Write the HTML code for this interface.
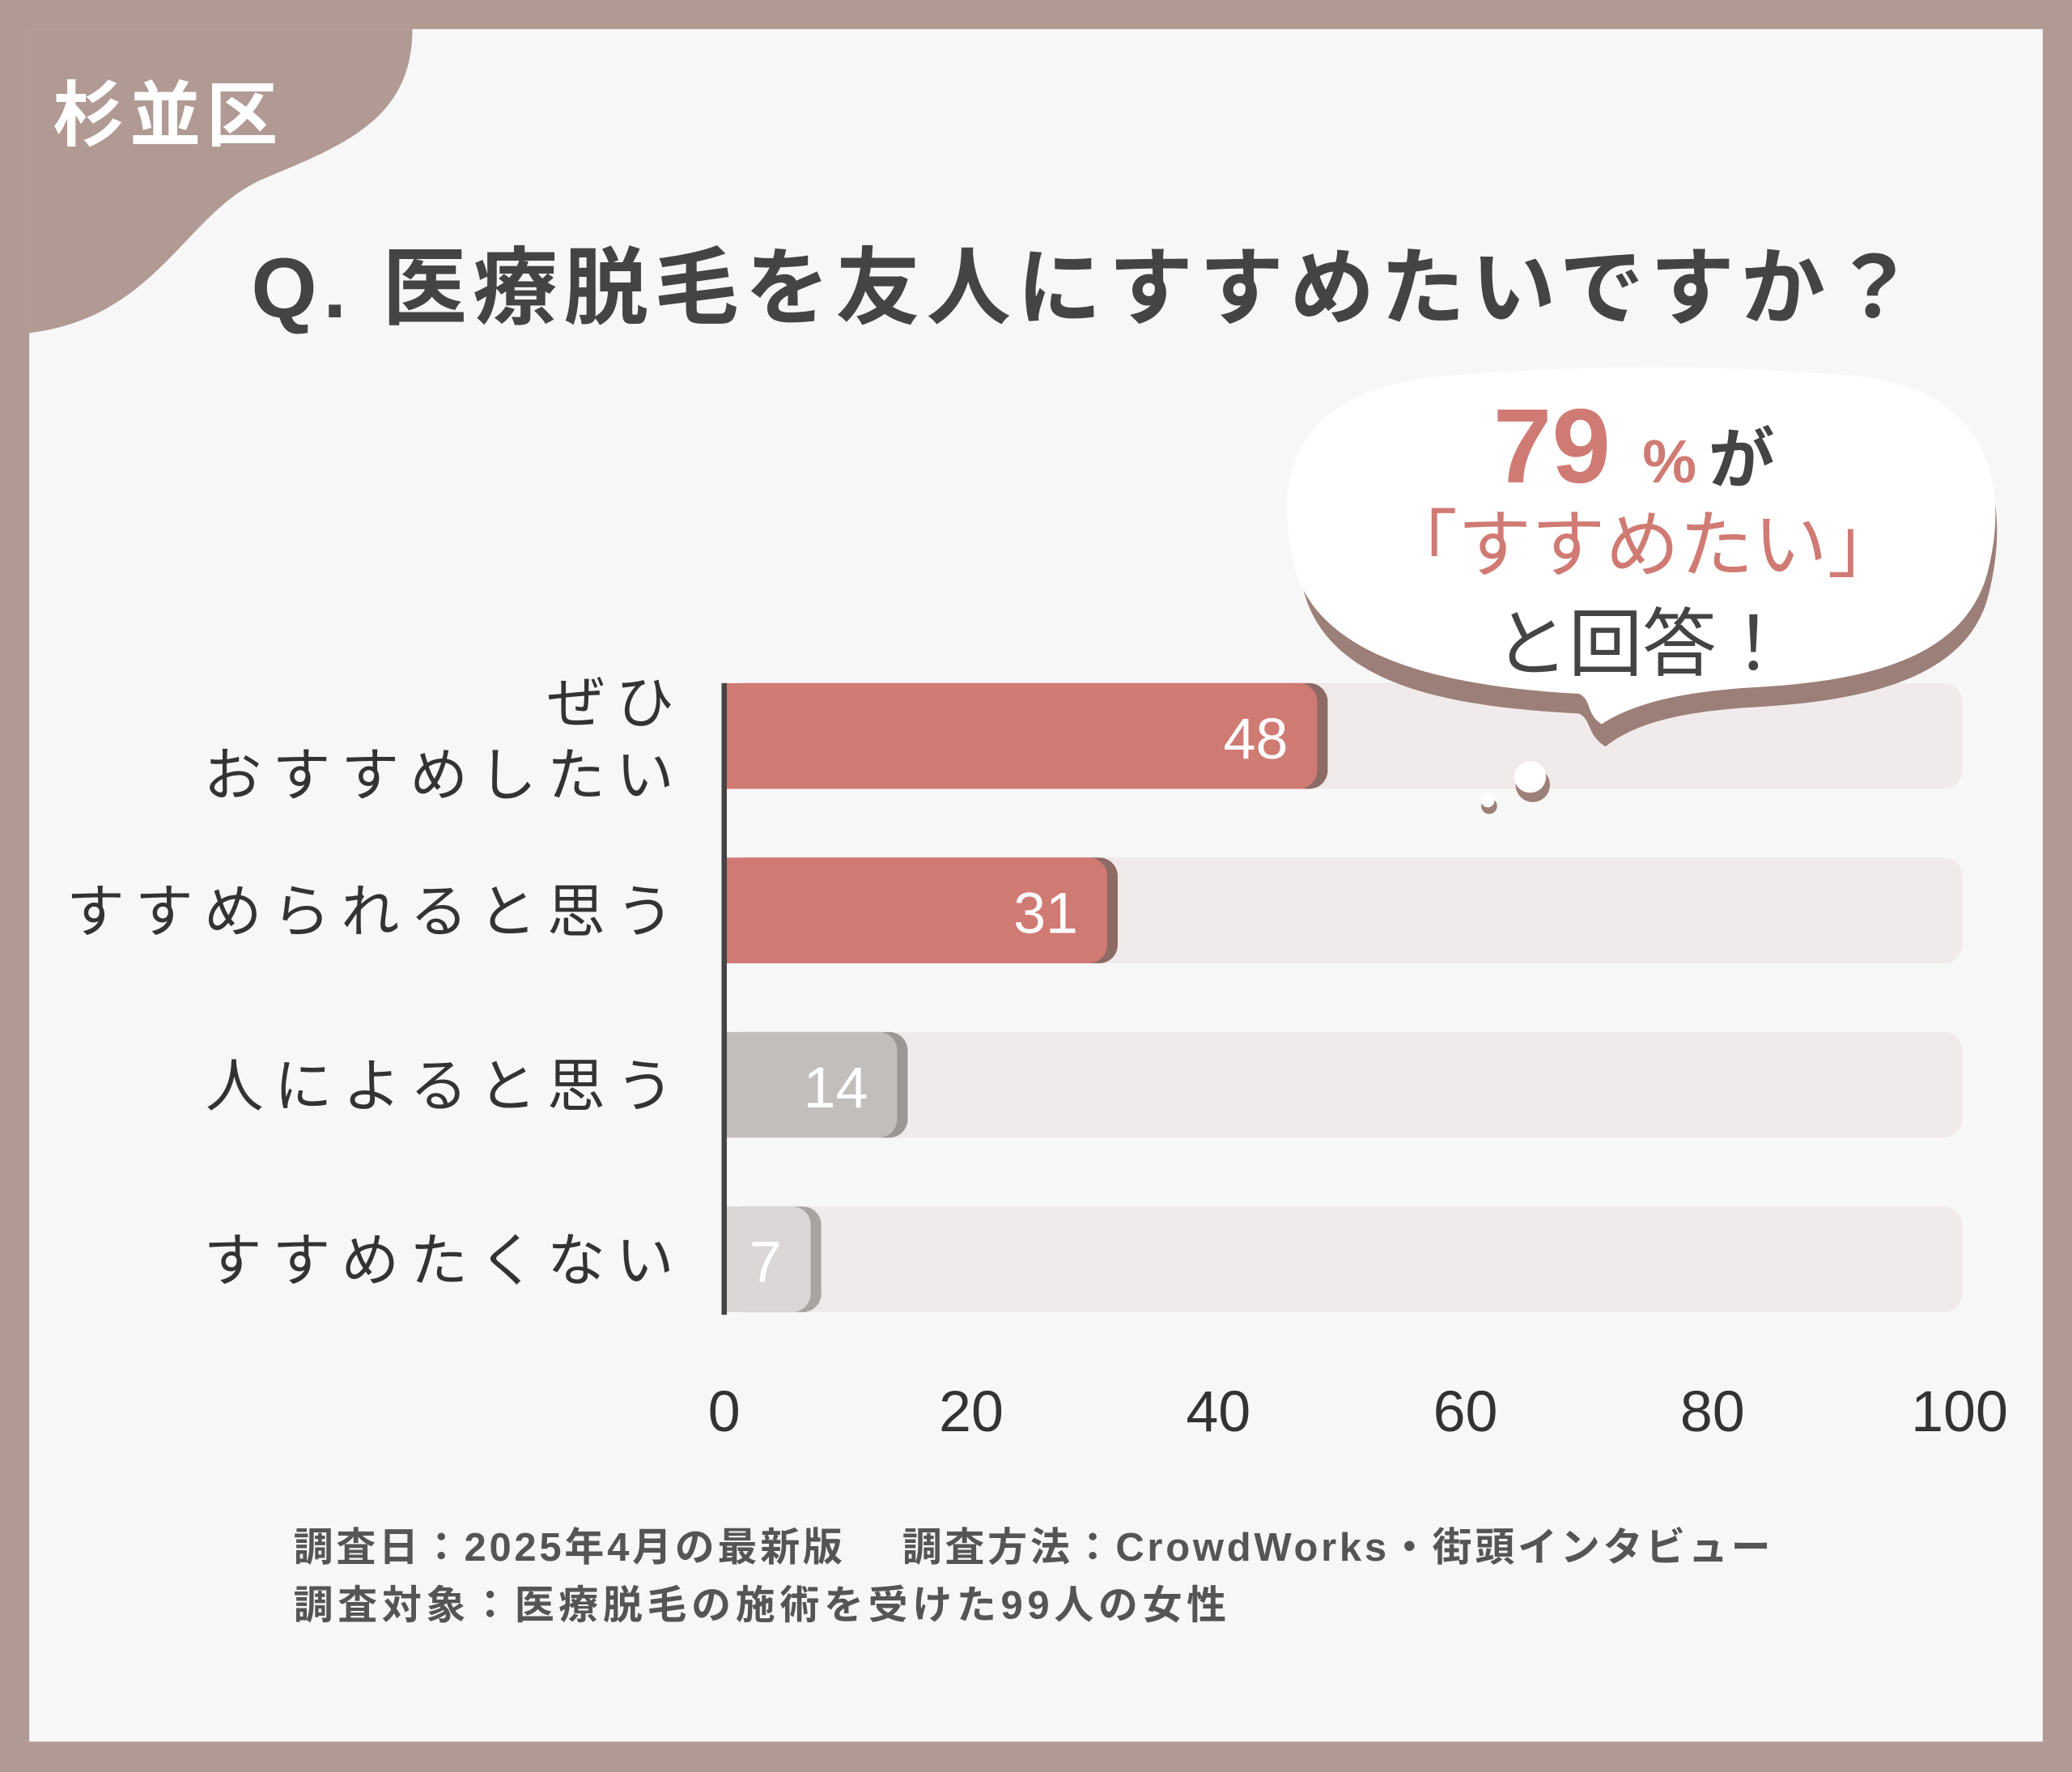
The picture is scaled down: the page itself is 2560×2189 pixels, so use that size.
<!DOCTYPE html>
<html><head><meta charset="utf-8"><style>
html,body{margin:0;padding:0;background:#b09a93;}
svg{display:block}
text{font-family:"Liberation Sans","Noto Sans CJK JP",sans-serif;}
</style></head><body>
<svg width="2560" height="2189" viewBox="0 0 1568 1341" xmlns="http://www.w3.org/2000/svg">
<rect x="0" y="0" width="1568" height="1341" fill="#b09a93"/>
<rect x="22" y="22" width="1524" height="1296" fill="#f8f7f7"/>
<path d="M22 22 H312 C312 90 260 110 200 135 C140 160 120 240 22 252 Z" fill="#b09a93"/>
<text x="40" y="106" font-size="54" font-weight="bold" fill="#fff" letter-spacing="4">杉並区</text>
<text x="190" y="240" font-size="64" font-weight="bold" fill="#444" textLength="1260" lengthAdjust="spacing">Q. 医療脱毛を友人にすすめたいですか？</text>
<g id="bars"></g>
<g>
<path d="M985 440 C960 360 1000 300 1100 292 C1200 280 1300 282 1400 292 C1500 300 1525 370 1505 450 C1490 510 1420 530 1330 535 C1280 538 1240 545 1215 565 C1200 555 1205 545 1195 540 C1100 535 1000 520 985 440 Z" fill="#9c7f78"/>
<path d="M978 420 C960 340 1000 290 1100 284 C1200 276 1300 276 1400 284 C1500 292 1522 360 1505 430 C1490 495 1420 515 1330 520 C1280 523 1240 530 1212 548 C1200 540 1205 530 1195 525 C1100 520 990 500 978 420 Z" fill="#fff"/>
<circle cx="1160" cy="594" r="13" fill="#9c7f78"/><circle cx="1158" cy="588" r="12" fill="#fff"/>
<circle cx="1127" cy="610" r="6" fill="#9c7f78"/><circle cx="1126" cy="606" r="5" fill="#fff"/>
<text x="1130" y="365" font-size="80" font-weight="bold" fill="#d07a74">79</text>
<text x="1243" y="365" font-size="46" font-weight="bold" fill="#d07a74">%</text>
<text x="1293" y="365" font-size="50" font-weight="bold" fill="#444">が</text>
<text x="1243" y="432" text-anchor="middle" font-size="56" fill="#d07a74">「すすめたい」</text>
<text x="1243" y="507" text-anchor="middle" font-size="56" fill="#444">と回答！</text>
</g>
<line x1="548" y1="517" x2="548" y2="995" stroke="#444" stroke-width="4"/>
<g id="labels"></g>
<text x="222" y="1181" font-size="30" font-weight="bold" fill="#555" textLength="1118" lengthAdjust="spacing">調査日：2025年4月の最新版　 調査方法：CrowdWorks・街頭インタビュー</text>
<text x="222" y="1225" font-size="30" font-weight="bold" fill="#555" textLength="706" lengthAdjust="spacing">調査対象：医療脱毛の施術を受けた99人の女性</text>
</svg>
<script>
const categories=[["ぜひ","おすすめしたい"],["すすめられると思う"],["人によると思う"],["すすめたくない"]];
const values=[48,31,14,7];
const colors=["#d07a74","#d07a74","#c2bebc","#dad7d6"];
const shadows=["#8e6a64","#8e6a64","#9c9795","#a8a4a2"];
const ticks=[0,20,40,60,80,100];
const NS="http://www.w3.org/2000/svg";
const x0=548,x1=1483,rowY=[557,689,821,953],bh=80;
const xs=v=>x0+(x1-x0)*v/100;
const g=document.getElementById("bars"),lg=document.getElementById("labels");
function mk(tag,at,par){const e=document.createElementNS(NS,tag);for(const k in at)e.setAttribute(k,at[k]);par.appendChild(e);return e;}
values.forEach((v,i)=>{
 const cy=rowY[i];
 const tr=mk("rect",{x:x0,y:cy-bh/2,width:xs(100)-x0+2,height:bh,rx:14,fill:"#f0ebea"},g);
 
 
 const sh=mk("rect",{x:x0,y:cy-bh/2,width:xs(v)-x0+8,height:bh,rx:14,fill:shadows[i]},g);
 
 
 const b=mk("rect",{x:x0,y:cy-bh/2,width:xs(v)-x0,height:bh,rx:14,fill:colors[i]},g);
 
 
 mk("rect",{x:x0,y:cy-bh/2,width:14,height:bh,fill:colors[i]},g);
 const t=mk("text",{x:xs(v)-22,y:cy+17,"text-anchor":"end","font-size":44,fill:"#fff"},g);
 t.textContent=v;
 
 
 const lines=categories[i];
 lines.forEach((s,j)=>{
  const ly=lines.length===2?cy-10+j*55:cy+16;
  const l=mk("text",{x:518,y:ly,"text-anchor":"end","font-size":44,fill:"#333","letter-spacing":8},lg);
  l.textContent=s;
  
  
 });
});
ticks.forEach(tv=>{
 const t=mk("text",{x:xs(tv),y:1083,"text-anchor":"middle","font-size":44,fill:"#333"},lg);
 t.textContent=tv;
 
 
});
</script>
</body></html>
